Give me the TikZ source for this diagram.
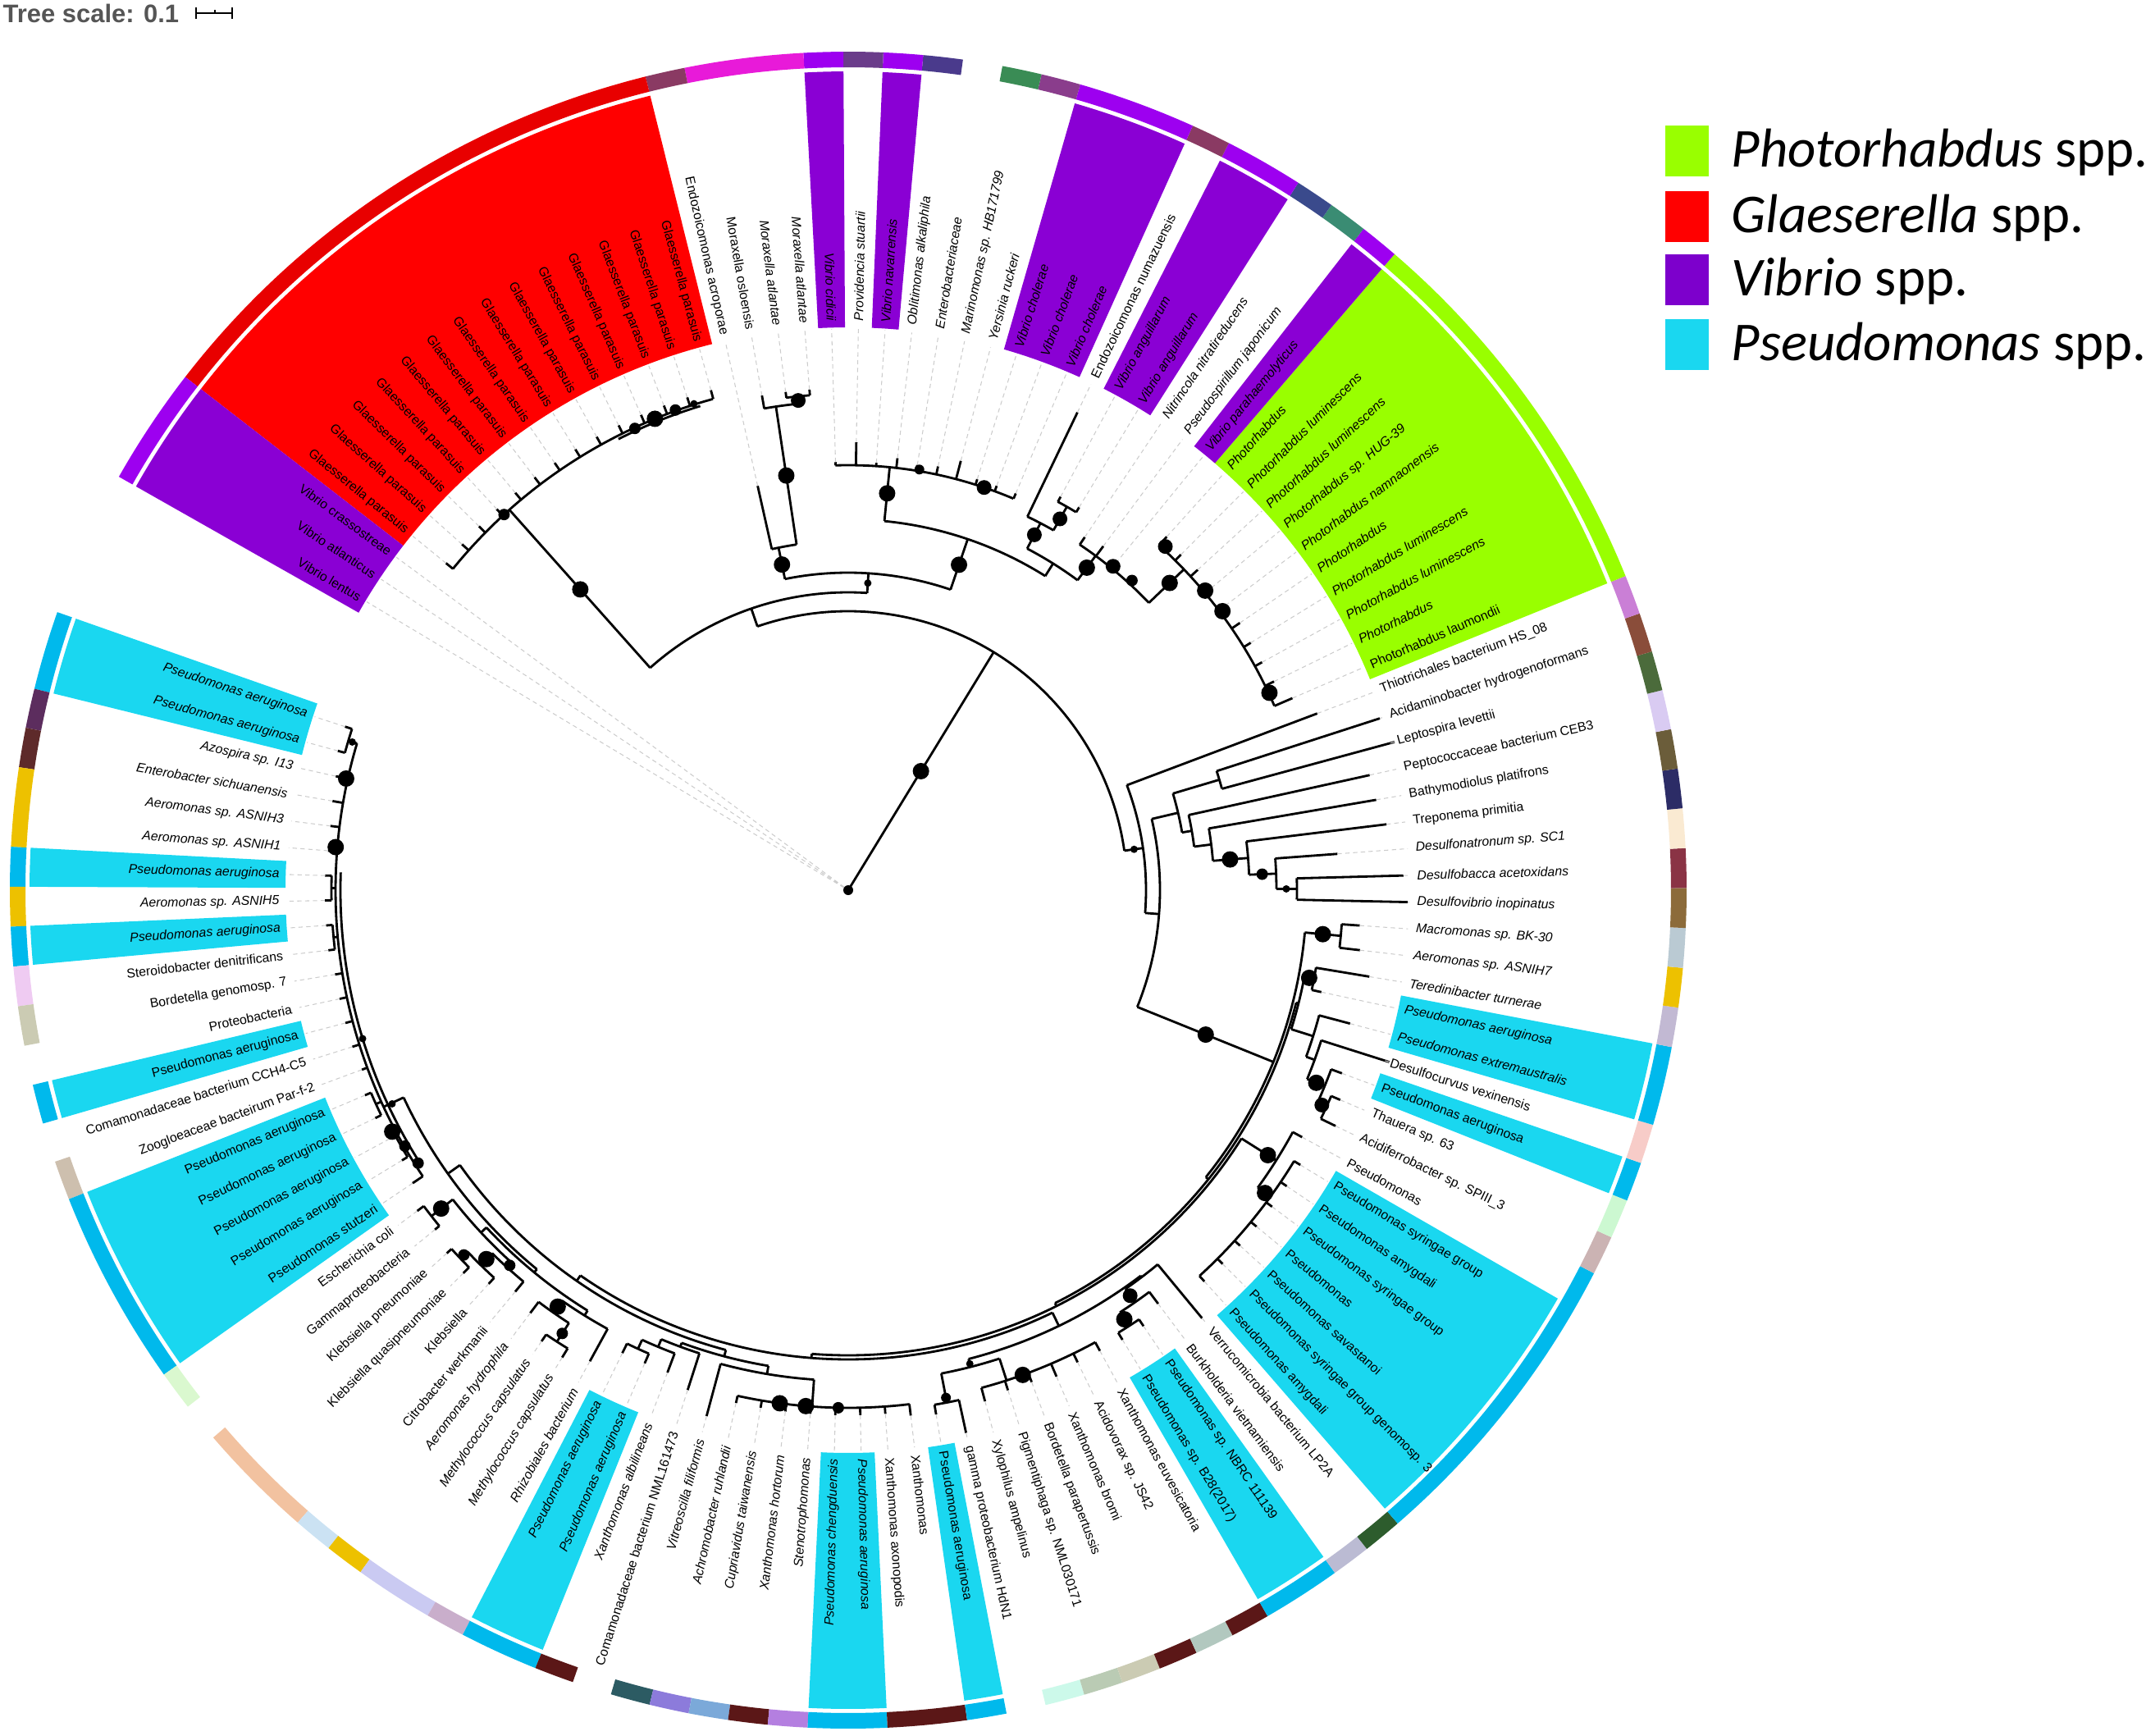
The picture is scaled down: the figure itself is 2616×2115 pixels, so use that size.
\documentclass[tikz,border=0pt]{standalone}
\usepackage{fontspec}
\setmainfont{Liberation Sans}
\newfontfamily\legfont{Carlito}
\definecolor{cyanB}{HTML}{1AD7F0}
\definecolor{cyanR}{HTML}{00B9EC}
\definecolor{redB}{HTML}{FF0000}
\definecolor{redR}{HTML}{E80000}
\definecolor{purB}{HTML}{8A00D4}
\definecolor{purR}{HTML}{9D00F0}
\definecolor{purL}{HTML}{7D00CC}
\definecolor{limeB}{HTML}{99FF00}
\definecolor{scalegray}{HTML}{555555}
\definecolor{rgC}{HTML}{5C2D5E}
\definecolor{rgD}{HTML}{5E2A2A}
\definecolor{rgYel}{HTML}{EDC100}
\definecolor{rgPinkA}{HTML}{EFCBF2}
\definecolor{rgBord}{HTML}{CBCBB3}
\definecolor{rgTaupe}{HTML}{CDBFAE}
\definecolor{rgLgreen}{HTML}{DAF8CF}
\definecolor{rgSalmon}{HTML}{F2C2A0}
\definecolor{rgLblue}{HTML}{CBE2F3}
\definecolor{rgLav}{HTML}{CACAF2}
\definecolor{rgMauve}{HTML}{C9AECB}
\definecolor{rgDmar}{HTML}{5B1717}
\definecolor{rgDteal}{HTML}{2C5B63}
\definecolor{rgPblue}{HTML}{8C7BDB}
\definecolor{rgLblueB}{HTML}{7BA9D9}
\definecolor{rgViolet}{HTML}{B47FE0}
\definecolor{rgMint}{HTML}{CCF9EA}
\definecolor{rgGgreen}{HTML}{BACBB4}
\definecolor{rgAcid}{HTML}{B2C8BF}
\definecolor{rgBurk}{HTML}{BBBBD3}
\definecolor{rgDgreen}{HTML}{2D5C2D}
\definecolor{rgAcidi}{HTML}{CBB3B3}
\definecolor{rgThau}{HTML}{CCF8D1}
\definecolor{rgPinkB}{HTML}{F7CCC8}
\definecolor{rgTere}{HTML}{C2B9D3}
\definecolor{rgMacro}{HTML}{BACAD3}
\definecolor{rgDvib}{HTML}{8C6B3A}
\definecolor{rgDbac}{HTML}{8A3345}
\definecolor{rgDnat}{HTML}{FAEAD2}
\definecolor{rgTrep}{HTML}{2C2C66}
\definecolor{rgBathy}{HTML}{6B5D3A}
\definecolor{rgPept}{HTML}{D9CBF2}
\definecolor{rgLept}{HTML}{4B6B3B}
\definecolor{rgAcida}{HTML}{8A4D3A}
\definecolor{rgThio}{HTML}{CA7FD6}
\definecolor{rgPspir}{HTML}{3A8C73}
\definecolor{rgNitr}{HTML}{3A4A8C}
\definecolor{rgEndo}{HTML}{8A3A63}
\definecolor{rgYers}{HTML}{8A3D8C}
\definecolor{rgMarin}{HTML}{3A8C55}
\definecolor{rgObli}{HTML}{4A3A8C}
\definecolor{rgProv}{HTML}{6A3C8A}
\definecolor{rgMag}{HTML}{E81AD9}
\tikzset{
  branch/.style={line width=0.8pt},
  leader/.style={gray!40, line width=0.3pt, dash pattern=on 1.5pt off 1.2pt},
  lbl/.style={inner sep=0pt, font=\fontsize{4.5}{5}\selectfont}
}
\newcommand{\trad}[3]{\draw[branch] (#1:#2) -- (#1:#3);}
\newcommand{\tarc}[3]{\draw[branch] (#2:#1) arc[start angle=#2, end angle=#3, radius=#1*0.01cm];}
\newcommand{\tdot}[3]{\fill (#1:#2) circle[radius=#3*0.01cm];}
\newcommand{\tsec}[5]{\fill[#5] (#1:#3) arc[start angle=#1, end angle=#2, radius=#3*0.01cm] -- (#2:#4) arc[start angle=#2, end angle=#1, radius=#4*0.01cm] -- cycle;}

\begin{document}
\begin{tikzpicture}[x=0.01cm, y=0.01cm]
\useasboundingbox (-1034,-1030) rectangle (1582,1085);

% highlighted label blocks
\foreach \i/\j/\c in {1/2/cyanB, 7/7/cyanB, 9/9/cyanB, 13/13/cyanB, 16/20/cyanB, 31/32/cyanB,
  40/41/cyanB, 44/44/cyanB, 52/53/cyanB, 56/62/cyanB, 66/66/cyanB, 68/69/cyanB,
  82/91/limeB, 92/92/purB, 95/96/purB, 98/100/purB, 105/105/purB, 107/107/purB,
  112/125/redB, 126/128/purB} {
  \pgfmathsetmacro\aa{162+(\i-1)*2.733-1.3665}
  \pgfmathsetmacro\bb{162+(\j-1)*2.733+1.3665}
  \tsec{\aa}{\bb}{686}{998}{\c}
}

% outer colour strip
\foreach \i/\j/\c in {1/2/cyanR, 3/3/rgC, 4/4/rgD, 5/6/rgYel, 7/7/cyanR, 8/8/rgYel, 9/9/cyanR,
  10/10/rgPinkA, 11/11/rgBord, 13/13/cyanR, 15/15/rgTaupe, 16/20/cyanR, 21/21/rgLgreen,
  23/25/rgSalmon, 26/26/rgLblue, 27/27/rgYel, 28/29/rgLav, 30/30/rgMauve, 31/32/cyanR,
  33/33/rgDmar, 35/35/rgDteal, 36/36/rgPblue, 37/37/rgLblueB, 38/38/rgDmar, 39/39/rgViolet,
  40/41/cyanR, 42/43/rgDmar, 44/44/cyanR, 46/46/rgMint, 47/47/rgGgreen, 48/48/rgBord,
  49/49/rgDmar, 50/50/rgAcid, 51/51/rgDmar, 52/53/cyanR, 54/54/rgBurk, 55/55/rgDgreen,
  56/63/cyanR, 64/64/rgAcidi, 65/65/rgThau, 66/66/cyanR, 67/67/rgPinkB, 68/69/cyanR,
  70/70/rgTere, 71/71/rgYel, 72/72/rgMacro, 73/73/rgDvib, 74/74/rgDbac, 75/75/rgDnat,
  76/76/rgTrep, 77/77/rgBathy, 78/78/rgPept, 79/79/rgLept, 80/80/rgAcida, 81/81/rgThio,
  82/91/limeB, 92/92/purR, 93/93/rgPspir, 94/94/rgNitr, 95/96/purR, 97/97/rgEndo,
  98/100/purR, 101/101/rgYers, 102/102/rgMarin, 104/104/rgObli, 105/105/purR,
  106/106/rgProv, 107/107/purR, 108/110/rgMag, 111/111/rgEndo, 112/125/redR, 126/128/purR} {
  \pgfmathsetmacro\aa{162+(\i-1)*2.733-1.3665}
  \pgfmathsetmacro\bb{162+(\j-1)*2.733+1.3665}
  \tsec{\aa}{\bb}{1003}{1022}{\c}
}

% leaves: index / branch start / tip / label
\foreach \n/\pr/\tp/\txt in {
  1/636/645/\textit{Pseudomonas aeruginosa},
  2/636/645/\textit{Pseudomonas aeruginosa},
  3/625/640/\textit{Azospira sp. I13},
  4/625/638/\textit{Enterobacter sichuanensis},
  5/625/636/\textit{Aeromonas sp. ASNIH3},
  6/625/636/\textit{Aeromonas sp. ASNIH1},
  7/630/638/\textit{Pseudomonas aeruginosa},
  8/630/638/\textit{Aeromonas sp. ASNIH5},
  9/630/638/\textit{Pseudomonas aeruginosa},
  10/630/638/Steroidobacter denitrificans,
  11/625/634/Bordetella genomosp. 7,
  12/625/634/Proteobacteria,
  13/625/634/Pseudomonas aeruginosa,
  14/625/634/Comamonadaceae bacterium CCH4-C5,
  15/625/632/Zoogloeaceae bacteirum Par-f-2,
  16/632/640/Pseudomonas aeruginosa,
  17/632/640/Pseudomonas aeruginosa,
  18/628/636/Pseudomonas aeruginosa,
  19/628/636/Pseudomonas aeruginosa,
  20/625/640/Pseudomonas stutzeri,
  21/645/655/Escherichia coli,
  22/645/652/Gammaproteobacteria,
  23/652/660/Klebsiella pneumoniae,
  24/652/662/Klebsiella quasipneumoniae,
  25/640/650/Klebsiella,
  26/620/636/Citrobacter werkmanii,
  27/628/645/\textit{Aeromonas hydrophila},
  28/655/665/\textit{Methylococcus capsulatus},
  29/655/668/\textit{Methylococcus capsulatus},
  30/610/655/\textit{Rhizobiales bacterium},
  31/615/628/\textit{Pseudomonas aeruginosa},
  32/615/628/\textit{Pseudomonas aeruginosa},
  33/603/628/\textit{Xanthomonas albilineans},
  34/593/640/Comamonadaceae bacterium NML161473,
  35/598/664/\textit{Vitreoscilla filiformis},
  36/631/640/\textit{Achromobacter ruhlandii},
  37/631/640/\textit{Cupriavidus taiwanensis},
  38/631/640/\textit{Xanthomonas hortorum},
  39/631/640/\textit{Stenotrophomonas},
  40/631/640/\textit{Pseudomonas chengduensis},
  41/631/640/\textit{Pseudomonas aeruginosa},
  42/631/640/Xanthomonas axonopodis,
  43/631/645/Xanthomonas,
  44/636/648/Pseudomonas aeruginosa,
  45/636/677/gamma proteobacterium HdN1,
  46/628/645/Xylophilus ampelinus,
  47/628/640/Pigmentiphaga sp. NML030171,
  48/628/640/Bordetella parapertussis,
  49/628/645/Xanthomonas bromi,
  50/628/640/Acidovorax sp. JS42,
  51/628/640/Xanthomonas euvesicatoria,
  52/632/642/Pseudomonas sp. B28(2017),
  53/632/642/Pseudomonas sp. NBRC 111139,
  54/612/630/Burkholderia vietnamiensis,
  55/592/677/Verrucomicrobia bacterium LP2A,
  56/636/645/Pseudomonas amygdali,
  57/636/645/Pseudomonas syringae group genomosp. 3,
  58/636/645/Pseudomonas savastanoi,
  59/636/645/Pseudomonas,
  60/636/645/Pseudomonas syringae group,
  61/636/645/Pseudomonas amygdali,
  62/636/645/Pseudomonas syringae group,
  63/617/630/Pseudomonas,
  64/640/660/Acidiferrobacter sp. SPIII\_3,
  65/640/652/Thauera sp. 63,
  66/628/642/Pseudomonas aeruginosa,
  67/605/692/Desulfocurvus vexinensis,
  68/594/633/\textit{Pseudomonas extremaustralis},
  69/578/590/\textit{Pseudomonas aeruginosa},
  70/578/644/\textit{Teredinibacter turnerae},
  71/603/628/\textit{Aeromonas sp. ASNIH7},
  72/603/625/\textit{Macromonas sp. BK-30},
  73/547/682/\textit{Desulfovibrio inopinatus},
  74/547/677/\textit{Desulfobacca acetoxidans},
  75/522/598/\textit{Desulfonatronum sp. SC1},
  76/489/661/Treponema primitia,
  77/446/653/Bathymodiolus platifrons,
  78/425/651/Peptococcaceae bacterium CEB3,
  79/472/690/Leptospira levettii,
  80/472/681/Acidaminobacter hydrogenoformans,
  81/363/611/Thiotrichales bacterium HS\_08,
  82/566/590/Photorhabdus laumondii,
  83/566/578/\textit{Photorhabdus},
  84/566/576/\textit{Photorhabdus luminescens},
  85/566/576/\textit{Photorhabdus luminescens},
  86/566/578/\textit{Photorhabdus},
  87/566/576/\textit{Photorhabdus namnaonensis},
  88/566/576/\textit{Photorhabdus sp. HUG-39},
  89/566/578/\textit{Photorhabdus luminescens},
  90/566/576/\textit{Photorhabdus luminescens},
  91/566/580/\textit{Photorhabdus},
  92/507/515/\textit{Vibrio parahaemolyticus},
  93/507/522/\textit{Pseudospirillum japonicum},
  94/507/518/\textit{Nitrincola nitratireducens},
  95/538/545/\textit{Vibrio anguillarum},
  96/538/545/\textit{Vibrio anguillarum},
  97/505/646/Endozoicomonas numazuensis,
  98/518/525/\textit{Vibrio cholerae},
  99/518/525/\textit{Vibrio cholerae},
  100/518/525/\textit{Vibrio cholerae},
  101/518/541/\textit{Yersinia ruckeri},
  102/518/528/\textit{Marinomonas sp. HB171799},
  103/518/525/\textit{Enterobacteriaceae},
  104/518/530/\textit{Oblitimonas alkaliphila},
  105/518/522/\textit{Vibrio navarrensis},
  106/518/546/\textit{Providencia stuartii},
  107/518/522/\textit{Vibrio cidicii},
  108/605/612/\textit{Moraxella atlantae},
  109/605/612/\textit{Moraxella atlantae},
  110/596/612/Moraxella osloensis,
  111/426/505/Endozoicomonas acroporae,
  112/621/632/Glaesserella parasuis,
  113/621/632/Glaesserella parasuis,
  114/621/632/Glaesserella parasuis,
  115/621/632/Glaesserella parasuis,
  116/621/632/Glaesserella parasuis,
  117/621/632/Glaesserella parasuis,
  118/621/632/Glaesserella parasuis,
  119/621/632/Glaesserella parasuis,
  120/621/632/Glaesserella parasuis,
  121/621/632/Glaesserella parasuis,
  122/621/632/Glaesserella parasuis,
  123/621/632/Glaesserella parasuis,
  124/621/632/Glaesserella parasuis,
  125/621/632/Glaesserella parasuis,
  126/6/6/Vibrio crassostreae,
  127/6/6/Vibrio atlanticus,
  128/6/6/Vibrio lentus} {
  \pgfmathsetmacro\a{162+(\n-1)*2.733}
  \pgfmathtruncatemacro\lf{(\a<270)+(\a>450)}
  \draw[branch] (\a:\pr) -- (\a:\tp);
  \draw[leader] (\a:\tp) -- (\a:684);
  \ifnum\lf=1
    \node[lbl, anchor=east, rotate=\a+180] (l\n) at (\a:693) {\txt};
  \else
    \node[lbl, anchor=west, rotate=\a] (l\n) at (\a:693) {\txt};
  \fi
}

% root and backbone
\tdot{0}{0}{6}
\trad{58.57}{0}{340} \tdot{58.57}{170}{10}
\tarc{340}{8.13}{109.0}

% right-hand clades
\trad{8.13}{340}{363} \tdot{8.13}{352}{4.5}
\tarc{363}{-4.4}{20.66}
\trad{-4.4}{363}{380} \tarc{380}{-22.0}{13.2}
\trad{13.2}{380}{413} \tarc{413}{9.8}{16.57}
\trad{16.57}{413}{472} \tarc{472}{15.2}{17.93}
\trad{9.8}{413}{425} \tarc{425}{7.17}{12.46}
\trad{7.17}{425}{446} \tarc{446}{4.6}{9.73}
\trad{4.6}{446}{489} \tdot{4.6}{467}{10} \tarc{489}{2.21}{7.0}
\trad{2.21}{489}{522} \tdot{2.21}{505}{7} \tarc{522}{0.165}{4.26}
\trad{0.165}{522}{547} \tdot{0.165}{534}{4.5} \tarc{547}{-1.2}{1.53}

\trad{-22.0}{380}{559} \tdot{-22.0}{470}{10}
\tarc{559}{-38.75}{-5.3}
\trad{-5.3}{559}{603} \tdot{-5.3}{581}{10} \tarc{603}{-6.67}{-3.94}
\trad{-38.75}{559}{563} \tarc{563}{-63.4}{-14.1}
\trad{-14.1}{563}{566} \tarc{566}{-17.43}{-10.77}
\trad{-10.77}{566}{578} \tdot{-10.77}{572}{10} \tarc{578}{-12.14}{-9.4}
\trad{-17.43}{566}{594} \tarc{594}{-19.99}{-14.87}
\trad{-19.99}{594}{605} \tarc{605}{-22.37}{-17.6}
\trad{-22.37}{605}{628} \tdot{-22.37}{617}{10} \tarc{628}{-24.4}{-20.34}
\trad{-24.4}{628}{640} \tdot{-24.4}{634}{9} \tarc{640}{-25.8}{-23.07}
\trad{-63.4}{563}{567} \tarc{567}{-94.5}{-32.27}
\trad{-32.27}{567}{617} \tdot{-32.27}{605}{10} \tarc{617}{-36}{-28.54}
\trad{-36}{617}{636} \tdot{-36}{628}{10} \tarc{636}{-47.67}{-31.27}

% bottom clades
\trad{265.5}{567}{572} \tarc{572}{235.2}{295.8}
\trad{295.8}{572}{590} \tarc{590}{284.4}{307.2}
\trad{307.2}{590}{592} \tarc{592}{304.81}{309.6}
\trad{304.81}{592}{612} \tdot{304.81}{602}{9} \tarc{612}{302.76}{306.86}
\trad{302.76}{612}{632} \tdot{302.76}{622}{10} \tarc{632}{301.4}{304.13}
\trad{284.4}{590}{600} \tdot{284.4}{596}{4.5} \tarc{600}{280.9}{287.9}
\trad{280.9}{600}{636} \tdot{280.9}{630}{6} \tarc{636}{279.53}{282.26}
\trad{287.9}{600}{628} \tarc{628}{285.0}{298.66} \tdot{289.8}{628}{10}
\trad{235.2}{572}{580} \tarc{580}{215.3}{255.1}
\trad{255.1}{580}{588} \tarc{588}{249.8}{260.47}
\trad{249.8}{588}{593} \tarc{593}{247.4}{252.2}
\trad{247.4}{593}{603} \tarc{603}{245.37}{249.46}
\trad{245.37}{603}{615} \tarc{615}{244.0}{246.73}
\trad{260.47}{588}{598} \tarc{598}{254.93}{266}
\trad{266}{598}{631} \tarc{631}{257.66}{276.8}
\tdot{262.4}{631}{10} \tdot{265.3}{631}{10} \tdot{268.9}{631}{7}

% left clades
\trad{215.3}{580}{598} \tarc{598}{205}{230.6}
\trad{205}{598}{625} \tarc{625}{163.37}{213.93} \tarc{619}{178}{212}
\trad{163.37}{625}{636} \tarc{636}{162}{164.73}
\trad{179.77}{625}{630} \tarc{630}{178.4}{181.13}
\trad{185.23}{625}{630} \tarc{630}{183.86}{186.6}
\trad{204.37}{625}{632} \tarc{632}{203}{205.73}
\trad{209.83}{625}{628} \tarc{628}{208.46}{211.2}
\tdot{163.37}{631}{4.5} \tdot{167.47}{627}{10} \tdot{175.2}{627}{10} \tdot{197}{619}{4.5}
\tdot{205.1}{614}{4.5} \tdot{207.9}{629}{10} \tdot{210}{624}{7} \tdot{212.4}{621}{7}
\trad{230.6}{598}{603} \tarc{603}{222.99}{238.2}
\trad{222.99}{603}{612} \tarc{612}{218.03}{227.94}
\trad{218.03}{612}{645} \tdot{218.03}{630}{10} \tarc{645}{216.66}{219.4}
\trad{227.94}{612}{620} \tdot{227.94}{616}{7} \tarc{620}{225.55}{230.33}
\trad{225.55}{620}{640} \tdot{225.55}{630}{10} \tarc{640}{223.5}{227.59}
\trad{223.5}{640}{652} \tdot{223.5}{646}{7} \tarc{652}{222.13}{224.86}
\trad{238.2}{603}{610} \tarc{610}{235.1}{241.26}
\trad{235.1}{610}{628} \tdot{235.1}{619}{10} \tarc{628}{233.06}{237.17}
\trad{237.17}{628}{655} \tdot{237.17}{643}{7} \tarc{655}{235.8}{238.53}

% top clades
\trad{109.0}{340}{363} \tarc{363}{86.35}{131.7}
\trad{86.35}{363}{387} \tdot{86.35}{375}{4.5} \tarc{387}{71.2}{101.5}
\trad{101.5}{387}{426} \tdot{101.5}{405}{10} \tarc{426}{98.5}{102.66}
\trad{98.5}{426}{596} \tdot{98.5}{511}{10} \tarc{596}{95.83}{99.93}
\trad{95.83}{596}{605} \tdot{95.83}{600}{9} \tarc{605}{94.46}{97.2}
\trad{71.2}{387}{452} \tdot{71.2}{419}{10} \tarc{452}{57.9}{84.4}
\trad{84.4}{452}{518} \tdot{84.4}{486}{10} \tarc{518}{67.13}{91.73}
\tdot{80.4}{520}{6} \tdot{71.35}{518}{9}
\trad{57.9}{452}{470} \tarc{470}{53.5}{62.35}
\trad{62.35}{470}{505} \tdot{62.35}{489}{9} \tarc{505}{60.3}{64.39}
\trad{60.3}{505}{538} \tdot{60.3}{521}{9} \tarc{538}{58.93}{61.66}
\trad{53.5}{470}{507} \tdot{53.5}{489}{10} \tarc{507}{43.7}{56.2}
\tdot{50.72}{510}{9} \tdot{47.5}{512}{7}
\trad{43.7}{507}{566} \tdot{43.7}{542}{10} \tarc{566}{23.39}{48.0}
\tdot{47.3}{570}{9} \tdot{40}{568}{10} \tdot{36.7}{569}{10} \tdot{25.1}{567}{10}
\trad{131.7}{363}{621} \tdot{131.7}{491}{10} \tarc{621}{105.4}{140.9} \tarc{617}{107}{117}
\tdot{132.5}{621}{7} \tdot{114.8}{620}{7} \tdot{112.3}{621}{10} \tdot{109.8}{622}{7} \tdot{107.6}{622}{4.5}

% tree scale
\node[anchor=west, inner sep=0pt, text=scalegray, font=\bfseries\fontsize{8.8}{10}\selectfont] (tscale) at (-1031,1069) {Tree scale: 0.1};
\draw[line width=0.7pt] (-795,1069) -- (-751,1069);
\draw[line width=0.7pt] (-795,1062) -- (-795,1076) (-751,1062) -- (-751,1076) (-772,1069) -- (-772,1073);

% legend
\foreach \y/\c/\g in {901/limeB/Photorhabdus, 821/redB/Glaeserella, 744/purL/Vibrio, 665/cyanB/Pseudomonas} {
  \fill[\c] (996,\y-31) rectangle (1049,\y+31);
  \node[anchor=base west, inner sep=0pt, font=\legfont\fontsize{19}{22}\selectfont] (leg\g) at (1076,\y-20) {\textit{\g} spp.};
}
\end{tikzpicture}
\end{document}
